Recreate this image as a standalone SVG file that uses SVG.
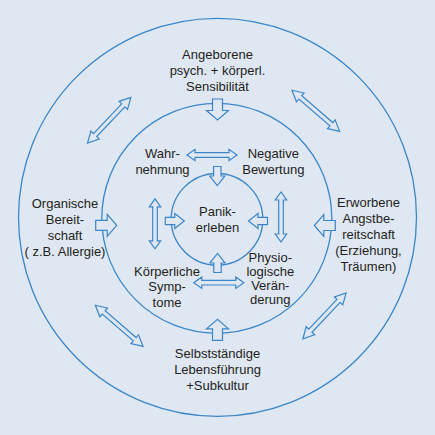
<svg xmlns="http://www.w3.org/2000/svg" xmlns:xlink="http://www.w3.org/1999/xlink" width="435" height="435" viewBox="0 0 435 435">
<style>
.ring{fill:none;stroke:#3a86c8;stroke-width:1.3}
.arr{fill:#dfe7f3;stroke:#3a86c8;stroke-width:1.2;stroke-linejoin:miter}
text{font-family:"Liberation Sans",Arial,sans-serif;font-size:13px;fill:#231f20;text-anchor:middle}
</style>
<defs>
<path id="bigA" d="M-5,-21 L5,-21 L5,-9.5 L11,-9.5 L0,0 L-11,-9.5 L-5,-9.5 Z"/>
<path id="smA" d="M-3.7,-19 L3.7,-19 L3.7,-9.5 L7.5,-9.5 L0,0 L-7.5,-9.5 L-3.7,-9.5 Z"/>
<path id="dblIn" d="M-25,0 L-17,-5.7 L-17,-2.3 L17,-2.3 L17,-5.7 L25,0 L17,5.7 L17,2.3 L-17,2.3 L-17,5.7 Z"/>
<path id="dblOut" d="M-31.5,0 L-20.5,-5.8 L-20.5,-2.2 L20.5,-2.2 L20.5,-5.8 L31.5,0 L20.5,5.8 L20.5,2.2 L-20.5,2.2 L-20.5,5.8 Z"/>
</defs>
<rect width="435" height="435" fill="#dfe7f3"/>
<g id="rings">
<circle class="ring" cx="217.5" cy="217.3" r="199"/>
<circle class="ring" cx="216.8" cy="218.3" r="115"/>
<circle class="ring" cx="217" cy="219.3" r="45.8"/>
</g>
<g id="connectors">
<use href="#bigA" class="arr" transform="translate(217.5,120)"/>
<use href="#bigA" class="arr" transform="translate(116.7,225.3) rotate(-90)"/>
<use href="#bigA" class="arr" transform="translate(314.3,225.5) rotate(90)"/>
<use href="#bigA" class="arr" transform="translate(217.5,319.3) rotate(180)"/>
<use href="#smA" class="arr" transform="translate(217.3,185.5)"/>
<use href="#smA" class="arr" transform="translate(184.3,221) rotate(-90)"/>
<use href="#smA" class="arr" transform="translate(248.5,221) rotate(90)"/>
<use href="#smA" class="arr" transform="translate(217.5,253.5) rotate(180)"/>
<use href="#dblIn" class="arr" transform="translate(212,155)"/>
<use href="#dblIn" class="arr" transform="translate(218.8,282.7)"/>
<use href="#dblIn" class="arr" transform="translate(155,223.8) rotate(90)"/>
<use href="#dblIn" class="arr" transform="translate(281,217) rotate(90)"/>
<use href="#dblOut" class="arr" transform="translate(109.2,120.2) rotate(-46.5)"/>
<use href="#dblOut" class="arr" transform="translate(315.8,110.8) rotate(40.8)"/>
<use href="#dblOut" class="arr" transform="translate(119.2,325.8) rotate(40.8)"/>
<use href="#dblOut" class="arr" transform="translate(324.5,315.8) rotate(-46.7)"/>
</g>
<g id="node-angeboren">
<text x="217.5" y="58.5">Angeborene</text>
<text x="217.5" y="74.5">psych. + körperl.</text>
<text x="217.5" y="90.5">Sensibilität</text>
</g>
<g id="node-organisch">
<text x="65" y="207.5">Organische</text>
<text x="65" y="223.5">Bereit-</text>
<text x="65" y="239.5">schaft</text>
<text x="65" y="255.5">( z.B. Allergie)</text>
</g>
<g id="node-erworben">
<text x="368.5" y="206.5">Erworbene</text>
<text x="368.5" y="222.5">Angstbe-</text>
<text x="368.5" y="238.5">reitschaft</text>
<text x="368.5" y="254.5">(Erziehung,</text>
<text x="368.5" y="270.5">Träumen)</text>
</g>
<g id="node-selbst">
<text x="217.5" y="357.5">Selbstständige</text>
<text x="217.5" y="373.5">Lebensführung</text>
<text x="217.5" y="389.5">+Subkultur</text>
</g>
<g id="node-wahrnehmung">
<text x="162.5" y="158">Wahr-</text>
<text x="162.5" y="174">nehmung</text>
</g>
<g id="node-bewertung">
<text x="273.3" y="158">Negative</text>
<text x="273.3" y="174">Bewertung</text>
</g>
<g id="node-panik">
<text x="217.5" y="216">Panik-</text>
<text x="217.5" y="232">erleben</text>
</g>
<g id="node-koerper">
<text x="167" y="275.5">Körperliche</text>
<text x="167" y="291.2">Symp-</text>
<text x="167" y="307">tome</text>
</g>
<g id="node-physio">
<text x="270.3" y="262">Physio-</text>
<text x="270.3" y="276">logische</text>
<text x="270.3" y="290.2">Verän-</text>
<text x="270.3" y="304.3">derung</text>
</g>
</svg>
